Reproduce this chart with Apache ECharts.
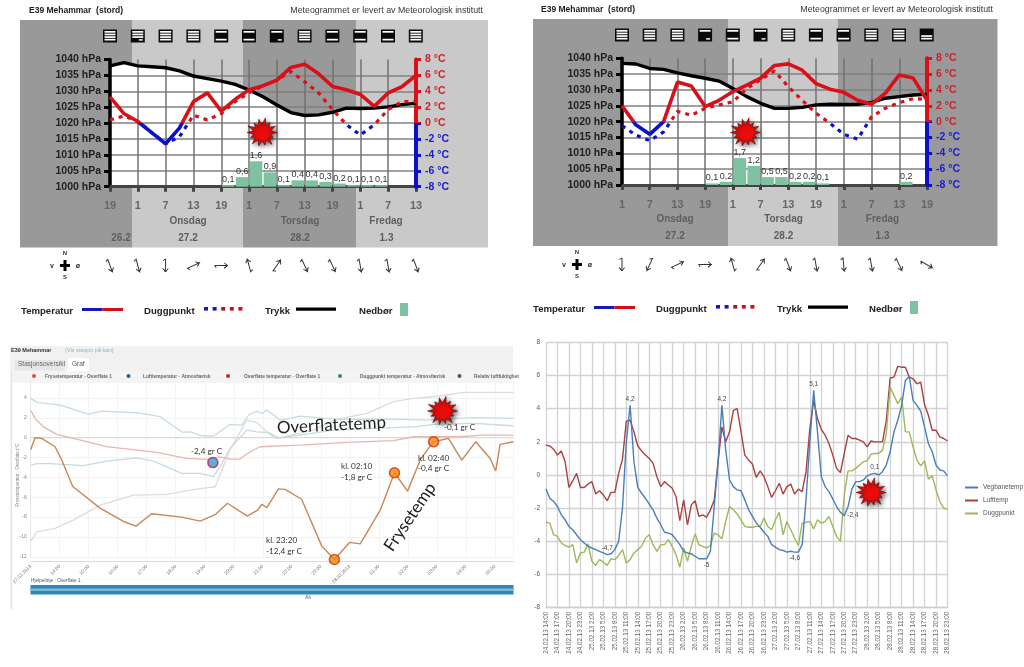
<!DOCTYPE html>
<html><head><meta charset="utf-8">
<style>html,body{margin:0;padding:0;background:#fff}#c{width:1024px;height:667px}</style>
<script src="https://cdn.jsdelivr.net/npm/echarts@6/dist/echarts.min.js"></script>
</head><body><div id="c"></div>
<script>
// ---------- Meteogram 1 (top left)
const m1Hours = ['19','22','1','4','7','10','13','16','19','22','1','4','7','10','13','16','19','22','1','4','7','10','13'];
const m1Temp = [3.3,1.2,0.2,-1.2,-2.6,-0.6,2.7,3.8,1.5,3.0,4.2,4.7,5.4,7.0,7.4,6.2,4.6,4.2,3.6,2.1,3.8,4.6,6.0];
const m1Dew = [0.4,0.9,0.2,-1.2,-2.6,-1.7,1.0,0.4,1.2,2.7,3.8,4.7,5.4,6.5,5.2,3.8,1.7,-0.2,-1.5,-0.2,1.7,2.7,2.7];
const m1Press = [1038,1039,1038,1037.7,1037.4,1036.4,1034.8,1034,1033.2,1032.2,1030.4,1028.3,1025.7,1023.3,1022.4,1022.6,1023.4,1024.7,1024.6,1024.7,1025.1,1025.8,1026.2];
const m1Rain = [null,null,null,null,null,null,null,null,0.1,0.6,1.6,0.9,0.1,0.4,0.4,0.3,0.2,0.1,0.1,0.1,null,null];
const m1Icons = ['f','b','f','f','h','h','s','f','h','h','h','f'];
const m1Wind = [160,165,180,65,90,345,35,155,155,170,170,160];
// ---------- Meteogram 2 (top right)
const m2Hours = ['1','4','7','10','13','16','19','22','1','4','7','10','13','16','19','22','1','4','7','10','13','16','19'];
const m2Temp = [2.0,-0.4,-1.6,0,5.0,4.5,1.9,2.7,3.8,4.6,5.5,7.1,7.3,6.5,4.8,4.1,3.7,2.7,2.2,3.6,5.9,5.5,2.7];
const m2Dew = [-0.5,-1.7,-2.4,-1.3,1.3,0.8,1.7,2.1,2.5,4.2,5.3,6.4,4.4,2.7,1.05,-0.2,-1.6,-2.2,0.6,1.7,2.4,2.9,2.8];
const m2Press = [1038.4,1038.2,1036.8,1036.5,1035.4,1034.5,1033.7,1032.8,1030.5,1027.9,1025.8,1024.2,1024.2,1024.5,1025.3,1025.5,1025.4,1025.5,1026.1,1027.4,1027.9,1028.4,1028.6];
const m2Rain = [null,null,null,null,null,null,0.1,0.2,1.7,1.2,0.5,0.5,0.2,0.2,0.1,null,null,null,null,null,0.2,null];
const m2Icons = ['f','f','f','s','h','s','f','h','h','f','f','t'];
const m2Wind = [180,205,65,90,345,35,160,170,175,170,155,120];
// ---------- Station graph (bottom left): [tick position, degrees]
const stTicks = ['27.02.2013','14:00','15:00','16:00','17:00','18:00','19:00','20:00','21:00','22:00','23:00','28.02.2013','01:00','02:00','03:00','04:00','05:00'];
const stFreeze = [[0,-1.2],[.15,0],[.38,-.07],[.84,-.91],[1.07,-2.25],[1.45,-4.92],[2.39,-7.09],[3.2,-8.44],[3.63,-8.91],[4.17,-7.66],[5.21,-8],[5.84,-8.4],[6.36,-7.76],[6.78,-6.6],[7.47,-7.9],[7.82,-7.3],[7.97,-6.7],[8.14,-7.05],[8.54,-5.15],[8.77,-5.2],[9.34,-6.2],[10.03,-10.9],[10.47,-12.27],[10.99,-10.55],[11.36,-10.7],[12.05,-7.3],[12.54,-3.53],[12.99,-5.38],[13.45,-2.1],[13.89,-.4],[14.4,-.07],[14.86,-2.25],[15.34,-.4],[15.84,-2.1],[16.03,-3.36],[16.18,-.67],[16.64,-.4]];
const stSurface = [[0,2.79],[.15,1.95],[.44,1.1],[.9,.34],[1.47,-.07],[2.62,-.9],[4.34,-1.48],[5.38,-2.08],[6.07,-2.18],[6.53,-1.92],[6.87,-2.15],[7.22,-2.15],[7.56,-1.41],[7.91,-.91],[9.29,-.74],[10.9,-.47],[12.5,-.3],[13.2,.1],[14.8,.1],[15.6,.27],[16.64,.27]];
const stAir = [[0,3.97],[.21,3.56],[1.01,3.29],[1.99,2.39],[2.45,2.69],[3.66,2.52],[4.46,2.12],[5.21,.57],[5.49,.6],[5.9,.2],[6.3,.17],[6.87,1.34],[7.28,1.28],[7.51,2.29],[7.79,2.69],[7.97,2.45],[8.14,2.8],[8.6,1.78],[9.29,2.18],[10.55,1.85],[12.51,1.88],[13.66,1.78],[15.26,2.02],[16.64,1.95]];
const stDew = [[0,-2.82],[.21,-2.6],[.67,-2.6],[1.82,-2.82],[2.62,-2.35],[3.66,-2.02],[4.23,-2.35],[5.21,-3.6],[5.84,-3.6],[6.3,-3.93],[6.53,-2.9],[6.87,-1.08],[7.45,.77],[7.79,.6],[8.14,.54],[8.48,-.07],[10.44,.77],[13.31,1.11],[13.89,1.34],[15.26,1.45],[16.64,1.21]];
const stHumid = [[0,-10.43],[.21,-9.48],[.84,-9.14],[1.47,-8.3],[2.39,-6.79],[3.54,-5.78],[4.69,-5.71],[5.72,-5.18],[6.36,-4.94],[6.87,-1.24],[7.45,1.78],[7.79,1.55],[8.14,.6],[8.6,0],[9.75,.77],[10.55,1.85],[11.59,2.45],[12.51,3.63],[13.2,3.97],[13.89,4.13],[14.92,4.57],[16.64,4.57]];
const stBlueMark = [[6.28,-2.5]];
const stOrangeMarks = [[10.47,-12.27],[12.54,-3.53],[13.89,-.4]];
// ---------- Excel chart (bottom right)
const xlTicks = ['24.02.13 14:00','24.02.13 17:00','24.02.13 20:00','24.02.13 23:00','25.02.13 2:00','25.02.13 5:00','25.02.13 8:00','25.02.13 11:00','25.02.13 14:00','25.02.13 17:00','25.02.13 20:00','25.02.13 23:00','26.02.13 2:00','26.02.13 5:00','26.02.13 8:00','26.02.13 11:00','26.02.13 14:00','26.02.13 17:00','26.02.13 20:00','26.02.13 23:00','27.02.13 2:00','27.02.13 5:00','27.02.13 8:00','27.02.13 11:00','27.02.13 14:00','27.02.13 17:00','27.02.13 20:00','27.02.13 23:00','28.02.13 2:00','28.02.13 5:00','28.02.13 8:00','28.02.13 11:00','28.02.13 14:00','28.02.13 17:00','28.02.13 20:00','28.02.13 23:00'];
const xlRoad = [-.85,-1.4,-1.6,-1.9,-2.4,-2.7,-3.1,-3.3,-3.6,-3.9,-4.1,-4.3,-4.4,-4.5,-4.6,-4.7,-4.8,-4.75,-4.5,-4,-2,2,4.2,.8,-.75,-1.1,-1.4,-1.75,-2.1,-2.6,-3,-3.45,-3.5,-3.6,-3.9,-4.2,-4.6,-4.7,-4.75,-4.9,-5.05,-5.05,-5.05,-4.6,-1.9,.8,4.2,1.5,-.3,-.7,-.9,-.95,-1.5,-2.1,-2.5,-2.9,-3.15,-3.45,-3.7,-4.2,-4.35,-4.5,-4.55,-4.65,-4.6,-4.65,-4.65,-4.2,-1.5,2,5.1,2.6,-.1,-.7,-1,-1.45,-1.9,-2.25,-2.45,-1.9,-.85,-.4,-.4,-.3,-.05,.05,.1,0,.2,.6,1.4,2.6,3.3,4.2,5.7,5.95,4.5,4.2,3.85,2.9,1.9,1.4,.6,.3,.25,-.05];
const xlAir = [1.8,1.75,1.55,1.2,1.45,.8,-.75,-.35,.1,-.75,-.75,-.55,-.4,-1.15,-.95,-1.2,-1.55,-1.05,-1.05,.1,.95,3.25,3.3,2.6,1.75,1.45,1.2,1,.7,-.1,-.7,-.4,-.6,-.8,-1.3,-2.75,-1.5,-3,-1.8,-1.55,-2.5,-2.4,-2.55,-2.1,-1.5,.8,2.9,2,2.6,3.9,4,2.6,1.2,.9,.65,-.15,.25,-.1,-.7,-1.35,-.95,-.5,-1.15,-.7,-.55,-1.15,-.85,-1,.2,2.8,4.5,3.4,2.75,2.4,1.9,1.2,.4,.15,1.3,2.4,2.2,2.2,2.1,2,1.7,2.05,2,2,2,3.3,5.85,5.9,6.55,6.5,6.5,5.9,5.8,5.5,5.6,4.25,3.6,2.7,2.7,2.3,2.2,2.05];
const xlDew = [-2.85,-2.9,-3.6,-3.7,-4.1,-4.25,-4.35,-4.2,-5.3,-4.7,-4.65,-4.15,-5.2,-5.45,-5.1,-5.25,-5.45,-5.05,-5.1,-4.85,-4.5,-5.3,-5.1,-4.7,-4.5,-4.3,-3.8,-3.6,-4.2,-4.6,-4.2,-4.2,-3.9,-4.3,-4.8,-5.55,-4.4,-5.2,-4.3,-3.55,-4.2,-4.3,-4.4,-4.25,-3.5,-3.6,-3.85,-2.8,-1.9,-2.1,-2.35,-2.7,-3.1,-3.15,-3.15,-3.1,-3.1,-2.6,-3.1,-3.3,-2.7,-2.25,-3.6,-2.8,-3.3,-3.8,-4.25,-2.9,-2.85,-2.8,-3.25,-2.7,-2.9,-2.8,-2.5,-3.1,-3.7,-4,-1.2,.25,.25,.4,.6,.8,.85,1.25,1.3,1.3,1.5,2.5,5.3,4.8,4.3,4.7,2.6,2.6,1.7,.9,.55,.85,-.25,-.05,-.9,-1.6,-2,-2.05];
const xlNotes = {16:['-4,7','top'],22:['4,2','top'],42:['-5','bottom'],46:['4,2','top'],65:['-4,6','bottom'],70:['5,1','top'],78:['-2,4','right'],86:['0,1','top']};

const SANS = '"Liberation Sans",Arial,sans-serif';
const RED='#d8101a', BLUE='#0c10c8', BAND_D='#999999', BAND_L='#c9c9c9';
const deco=[];
function T(x,y,text,o={}){deco.push({type:'text',x,y,rotation:(o.rot||0)*Math.PI/180,silent:true,z:o.z||60,style:{text,fill:o.color||'#222',font:`${o.weight||'normal'} ${o.size||9}px ${o.font||SANS}`,textAlign:o.align||'left',textVerticalAlign:'middle'}});}
function R(x,y,w,h,fill,z=-5){deco.push({type:'rect',silent:true,z,shape:{x,y,width:w,height:h},style:{fill}});}
const ICON_ROWS={f:[1,1,1,1],b:[1,1,1,0],h:[1,0,0,1],s:[1,0,0,0],t:[0,0,1,1]};
function icon(cx,cy,kind){R(cx-7,cy-6.5,14,13,'#0a0a0a',5);ICON_ROWS[kind].forEach((on,i)=>{if(on)R(cx-5.5,cy-5+i*2.6,11,1.7,'#fff',6);});if(kind==='s'||kind==='b')R(cx+1,cy+3.2,4,1.4,'#fff',6);}
function arrow(cx,cy,bearing){deco.push({type:'polyline',x:cx,y:cy,rotation:-(bearing-180)*Math.PI/180,silent:true,z:5,shape:{points:[[-2.5,-5],[0,-6.5],[0,6.5],[-2.6,3],[0,6.5],[2.6,3]]},style:{stroke:'#333',lineWidth:1,fill:'none'}});}
function burst(cx,cy){const k=[1,.82,1.06,.9,.98,1.04,.86,1,1.05,.84,.96,1.06,.88,1];const pts=[];const n=k.length;for(let i=0;i<n*2;i++){const a=i*Math.PI/n;const r=i%2?8.6:15*k[i/2];pts.push([cx+r*Math.cos(a),cy+r*Math.sin(a)*.95]);}
deco.push({type:'polygon',silent:true,z:100,shape:{points:pts},style:{fill:'#ee0a0a',stroke:'#300',lineWidth:.5,shadowBlur:4,shadowOffsetX:2,shadowOffsetY:2,shadowColor:'rgba(0,0,0,.6)'}});}

function meteoDeco(p){
  p.bands.forEach(b=>R(b[0],p.top,b[1]-b[0],p.h,b[2]));
  T(p.titleX,p.titleY,'E39 Mehammar  (stord)',{size:8.5,weight:'bold',color:'#222'});
  T(p.srcX,p.titleY,'Meteogrammet er levert av Meteorologisk institutt',{size:8.8,align:'right',color:'#333'});
  p.icons.forEach((k,i)=>icon(p.gx+i*p.step,p.iconY,k));
  p.wind.forEach((b,i)=>arrow(p.gx+i*p.step,p.windY,b));
  p.days.forEach(d=>T(d[0],p.dayY,d[1],{size:10,weight:'bold',color:'#5e5e5e',align:'center'}));
  p.dates.forEach(d=>T(d[0],p.dateY,d[1],{size:10,weight:'bold',color:'#5e5e5e',align:'center'}));
  // compass
  const cx=p.compassX,cy=p.windY;
  R(cx-5,cy-1.5,10,3,'#000',5);R(cx-1.5,cy-5.5,3,11,'#000',5);
  T(cx,cy-12,'N',{size:6,weight:'bold',align:'center',color:'#333'});
  T(cx,cy+12,'S',{size:6,weight:'bold',align:'center',color:'#333'});
  T(cx-13,cy+.5,'v',{size:7,weight:'bold',align:'center',color:'#333'});
  T(cx+13,cy+.5,'ø',{size:7,weight:'bold',align:'center',color:'#333'});
  // legend
  const l=p.leg;
  T(l.t,l.y,'Temperatur',{size:9.6,weight:'bold',color:'#222'});
  R(l.t+l.tw,l.y-3,20.5,3,'#1418c4',5);R(l.t+l.tw+20.5,l.y-3,20.5,3,'#d01018',5);
  T(l.d,l.y,'Duggpunkt',{size:9.6,weight:'bold',color:'#222'});
  ['#1418c4','#1418c4','#a81838','#d01018','#d01018'].forEach((c,i)=>R(l.d+60+i*8.6,l.y-4,4,3.6,c,5));
  T(l.k,l.y,'Trykk',{size:9.6,weight:'bold',color:'#222'});
  R(l.k+31,l.y-3.5,40,3.2,'#000',5);
  T(l.n,l.y,'Nedbør',{size:9.6,weight:'bold',color:'#222'});
  R(l.n+41,l.y-8,8,13,'#7fc2a2',5);
}
meteoDeco({bands:[[20,132,BAND_D],[132,243,BAND_L],[243,356,BAND_D],[356,488,BAND_L]],top:20,h:227.5,titleX:29,titleY:11,srcX:483,
  icons:m1Icons,wind:m1Wind,gx:110,step:27.8,iconY:36,windY:265.5,dayY:221.5,dateY:238.5,
  days:[[188,'Onsdag'],[300,'Torsdag'],[386,'Fredag']],dates:[[121,'26.2'],[188,'27.2'],[300,'28.2'],[386.5,'1.3']],compassX:65,
  leg:{t:21,tw:61,d:144,k:265,n:359,y:311}});
meteoDeco({bands:[[533,728,BAND_D],[728,838,BAND_L],[838,997.5,BAND_D]],top:19,h:227,titleX:541,titleY:10,srcX:993,
  icons:m2Icons,wind:m2Wind,gx:622,step:27.7,iconY:35,windY:264.5,dayY:219.5,dateY:236.5,
  days:[[675,'Onsdag'],[783.5,'Torsdag'],[882.5,'Fredag']],dates:[[675,'27.2'],[783.5,'28.2'],[882.5,'1.3']],compassX:577,
  leg:{t:533,tw:61,d:656,k:777,n:869,y:309}});
burst(262,132.5); burst(745.5,132.5); burst(442.5,411); burst(871,492.5);

// station screen furniture
R(10,346,503,25,'#f1f1f1',-5);
R(10.5,371,1.6,238,'#e4e4e4',-5);
R(15,360,50,10.5,'#e6e6e6',-4);
R(68,358,21,13,'#ffffff',-4);
R(12,371,501,12,'#f4f4f4',-5);
T(11,350,'E39 Mehammar',{size:5.5,weight:'bold',color:'#333'});
T(65,350,'(Vis stasjon på kart)',{size:5.5,color:'#8fb8c4'});
T(18,364.5,'Stasjonsoversikt',{size:6.5,color:'#666'});
T(72,364.5,'Graf',{size:6.5,color:'#555'});
[[34,'#e24a3a','Frysetemperatur - Overflate 1',45],[128.5,'#17689c','Lufttemperatur - Atmosfærisk',143],[228,'#d81e2a','Overflate temperatur - Overflate 1',244],[340,'#2f8a5e','Duggpunkt temperatur - Atmosfærisk',360],[459.5,'#555','Relativ luftfuktighet',474]].forEach(e=>{
  deco.push({type:'circle',silent:true,z:5,shape:{cx:e[0],cy:376,r:2},style:{fill:e[1]}});
  T(e[3],376.5,e[2],{size:4.8,weight:'bold',color:'#666'});
});
T(18,475,'Frysetemperatur · Overflate t°C',{size:4.5,color:'#888',rot:90,align:'center'});
T(31,581,'Hjelpelinje : Overflate 1',{size:4.8,color:'#555'});
R(30.5,585,483,9.5,'#2f86b8',5);
R(30.5,588.5,483,2.5,'#7fb9d8',6);
T(308,597.5,'Alt',{size:4.5,color:'#555',align:'center'});
const HAND='Lato,"Open Sans",sans-serif';
T(277,428,'Overflatetemp',{size:17,font:HAND,color:'#222',rot:3});
T(410,517,'Frysetemp',{size:17,font:HAND,color:'#222',rot:56,align:'center'});
T(191,451,'-2,4 gr C',{size:8.2,font:HAND,color:'#333'});
T(341,466,'kl. 02:10',{size:8.2,font:HAND,color:'#333'});
T(341,477,'-1,8 gr C',{size:8.2,font:HAND,color:'#333'});
T(418,458,'kl. 02:40',{size:8.2,font:HAND,color:'#333'});
T(418,468.5,'-0,4 gr C',{size:8.2,font:HAND,color:'#333'});
T(266,540,'kl. 23:20',{size:8.2,font:HAND,color:'#333'});
T(266,551,'-12,4 gr C',{size:8.2,font:HAND,color:'#333'});
T(444,427,'-0,1 gr C',{size:8.2,font:HAND,color:'#333'});

// ---------- axes / series builders
const grids=[],xAxes=[],yAxes=[],series=[];
function meteo(left,top,w,h,hours,temp,dew,press,rain){
  const g=grids.length;
  grids.push({left,top,width:w,height:h});
  const x0=xAxes.length,y0=yAxes.length;
  xAxes.push({gridIndex:g,type:'category',boundaryGap:false,z:1,data:hours,
    axisLine:{onZero:false,lineStyle:{color:'#444',width:3}},
    axisTick:{interval:1,length:5,lineStyle:{color:'#444',width:3}},
    axisLabel:{interval:1,margin:14,fontSize:11,fontWeight:'bold',color:'#666',fontFamily:SANS},
    splitLine:{show:true,interval:1,lineStyle:{color:'#707070',width:1.5}}});
  xAxes.push({gridIndex:g,type:'category',boundaryGap:true,show:false,data:rain.map((_,i)=>i)});
  yAxes.push({gridIndex:g,type:'value',min:1000,max:1040,interval:5,position:'left',z:1,
    axisLine:{show:true,lineStyle:{color:'#000',width:3.5}},
    axisTick:{show:true,length:6,lineStyle:{color:'#000',width:3}},
    axisLabel:{margin:9,fontSize:10.5,fontWeight:'bold',color:'#222',fontFamily:SANS,formatter:v=>v+' hPa'},
    splitLine:{show:true,showMaxLine:false,lineStyle:{color:'#808080',width:1.5}}});
  const grad=()=>new echarts.graphic.LinearGradient(0,top,0,top+h,[{offset:0,color:RED},{offset:.5,color:RED},{offset:.5,color:BLUE},{offset:1,color:BLUE}],true);
  yAxes.push({gridIndex:g,type:'value',min:-8,max:8,interval:2,position:'right',z:3,
    axisLine:{show:true,lineStyle:{color:grad(),width:4}},
    axisTick:{show:true,length:5,lineStyle:{color:grad(),width:3}},
    axisLabel:{margin:9,fontSize:10.5,fontWeight:'bold',fontFamily:SANS,color:v=>v>=0?'#d02030':'#1a1ad0',formatter:v=>v+' °C'},
    splitLine:{show:false}});
  yAxes.push({gridIndex:g,type:'value',min:0,max:8,interval:1,show:false,splitLine:{show:false}});
  series.push({type:'line',xAxisIndex:x0,yAxisIndex:y0,data:press,symbol:'none',silent:true,z:0,lineStyle:{width:0},areaStyle:{color:'#fff',opacity:1}});
  series.push({type:'bar',xAxisIndex:x0+1,yAxisIndex:y0+2,data:rain,barWidth:12.6,z:2,itemStyle:{color:'#7fc2a2'},
    label:{show:true,position:'top',distance:1,fontSize:9,color:'#333',fontFamily:SANS,formatter:p=>String(p.value).replace('.',',')}});
  series.push({type:'line',xAxisIndex:x0,yAxisIndex:y0,data:press,symbol:'none',z:3,lineStyle:{color:'#000',width:3.4}});
  series.push({type:'line',xAxisIndex:x0,yAxisIndex:y0+1,data:dew,symbol:'none',z:4,lineStyle:{width:3.2,type:[4,5],color:grad()}});
  series.push({type:'line',xAxisIndex:x0,yAxisIndex:y0+1,data:temp,symbol:'none',z:4,lineStyle:{width:3.6,color:grad()}});
}
meteo(110,59.5,306,127.2,m1Hours,m1Temp,m1Dew,m1Press,m1Rain);
meteo(622,58.3,305,126.7,m2Hours,m2Temp,m2Dew,m2Press,m2Rain);

// station graph
{
  const g=grids.length; grids.push({left:30.7,top:378.2,width:482.7,height:178.6});
  const x=xAxes.length,y=yAxes.length;
  xAxes.push({gridIndex:g,type:'value',min:0,max:16.64,interval:1,offset:4,z:1,
    axisLine:{onZero:false,lineStyle:{color:'#dcdcdc',width:1}},axisTick:{show:false},
    axisLabel:{rotate:45,margin:5,fontSize:4.8,color:'#777',showMaxLabel:false,formatter:v=>stTicks[v]||''},
    splitLine:{show:true,lineStyle:{color:'#f4f4f4',width:1}}});
  yAxes.push({gridIndex:g,type:'value',min:-12,max:6,interval:2,z:1,
    axisLine:{show:true,onZero:false,lineStyle:{color:'#e8e8e8'}},axisTick:{show:false},
    axisLabel:{margin:4,fontSize:5,color:'#888',formatter:v=>v===6?'':v},
    splitLine:{lineStyle:{color:'#f2f2f2',width:1}}});
  const ln=(data,color,width=1.3)=>series.push({type:'line',xAxisIndex:x,yAxisIndex:y,data,symbol:'none',clip:false,z:3,lineStyle:{color,width}});
  // the 0 line
  series.push({type:'line',xAxisIndex:x,yAxisIndex:y,data:[[0,0],[16.64,0]],symbol:'none',z:2,lineStyle:{color:'#d4d4d4',width:1}});
  ln(stHumid,'#d9dddb');ln(stAir,'#c6dddc');ln(stDew,'#c6dcd6');ln(stSurface,'#e8b6ae');ln(stFreeze,'#c98656',1.4);
  series.push({type:'scatter',xAxisIndex:x,yAxisIndex:y,data:stBlueMark,symbolSize:10,clip:false,z:6,itemStyle:{color:'#2b9fd8',borderColor:'#c8204e',borderWidth:1.6}});
  series.push({type:'scatter',xAxisIndex:x,yAxisIndex:y,data:stOrangeMarks,symbolSize:10,clip:false,z:6,itemStyle:{color:'#f28a0a',borderColor:'#d8300e',borderWidth:1.6}});
}
// excel chart
{
  const g=grids.length; grids.push({left:546,top:342.3,width:401.5,height:265.4});
  const x=xAxes.length,y=yAxes.length;
  const cats=xlRoad.map((_,i)=>i%3===0?xlTicks[i/3]:'');
  xAxes.push({gridIndex:g,type:'category',boundaryGap:false,data:cats,z:1,
    axisLine:{onZero:false,lineStyle:{color:'#cfcfcf',width:1.3}},axisTick:{show:false},
    axisLabel:{interval:2,rotate:90,margin:4,fontSize:6.3,color:'#666',fontFamily:SANS},
    splitLine:{show:true,interval:2,lineStyle:{color:'#d2d2d2',width:1.3}}});
  yAxes.push({gridIndex:g,type:'value',min:-8,max:8,interval:2,z:1,
    axisLine:{show:false},axisTick:{show:false},
    axisLabel:{margin:6,fontSize:6.5,color:'#555',fontFamily:SANS},
    splitLine:{lineStyle:{color:'#d2d2d2',width:1.3}}});
  const lab=(arr)=>arr.map((v,i)=>xlNotes[i]?{value:v,label:{show:true,position:xlNotes[i][1],distance:3,fontSize:6.5,color:'#444',formatter:xlNotes[i][0]}}:v);
  const ln=(name,data,color)=>series.push({name,type:'line',xAxisIndex:x,yAxisIndex:y,data,symbol:'none',z:3,lineStyle:{color,width:1.4},itemStyle:{color}});
  ln('Lufttemp',xlAir,'#a9413e');ln('Duggpunkt',xlDew,'#9bb95a');
  series.push({name:'Vegbanetemp',type:'line',xAxisIndex:x,yAxisIndex:y,data:lab(xlRoad),symbol:'circle',symbolSize:0.01,showSymbol:true,showAllSymbol:true,z:4,lineStyle:{color:'#4a7ebb',width:1.4},itemStyle:{color:'#4a7ebb'}});
}

const chart=echarts.init(document.getElementById('c'),null,{renderer:'canvas'});
chart.setOption({
  animation:false,backgroundColor:'#fff',
  grid:grids,xAxis:xAxes,yAxis:yAxes,series,
  legend:{data:['Vegbanetemp','Lufttemp','Duggpunkt'],orient:'vertical',left:960,top:479,itemWidth:13,itemHeight:2,itemGap:6,icon:'rect',selectedMode:false,textStyle:{fontSize:6.5,color:'#555',fontFamily:SANS}},
  graphic:{elements:deco}
});
</script></body></html>
